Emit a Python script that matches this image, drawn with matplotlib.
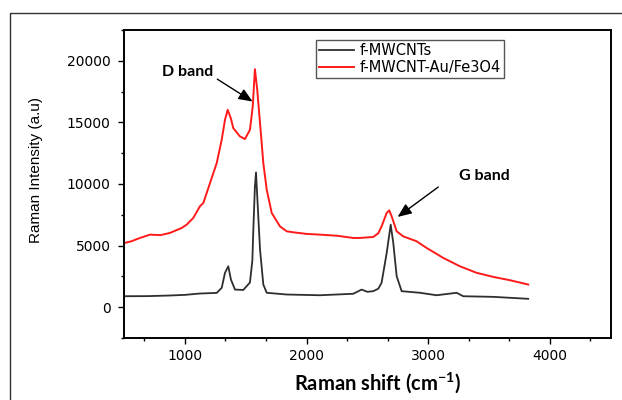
import matplotlib
matplotlib.use("Agg")
import matplotlib.pyplot as plt
from matplotlib.lines import Line2D
from matplotlib.ticker import MultipleLocator, FixedLocator

plt.rcParams['mathtext.fontset'] = 'custom'
plt.rcParams['mathtext.rm'] = 'Lato'
plt.rcParams['mathtext.bf'] = 'Lato:bold'

# ---- data ----
red_x = [500, 560, 631, 714, 800, 878, 974, 1015, 1069, 1124, 1152, 1207, 1262, 1303, 1330, 1352,
         1379, 1398, 1453, 1494, 1535, 1558, 1576, 1595, 1618, 1645, 1673, 1714, 1782, 1837, 1891,
         2000, 2111, 2250, 2384, 2439, 2521, 2548, 2590, 2617, 2659, 2680, 2700, 2741, 2795, 2905,
         2987, 3124, 3261, 3398, 3535, 3672, 3822]
red_y = [5200, 5350, 5620, 5890, 5850, 6030, 6430, 6700, 7240, 8190, 8460, 10080, 11700, 13590, 15210, 16020,
         15300, 14540, 13860, 13650, 14400, 16290, 19320, 17640, 14940, 11700, 9540, 7650, 6560, 6160, 6080,
         5950, 5890, 5800, 5620, 5620, 5680, 5700, 6000, 6560, 7650, 7860, 7370, 6160, 5750, 5350,
         4810, 4000, 3320, 2790, 2460, 2190, 1840]

black_x = [500, 700, 878, 1000, 1124, 1262, 1303, 1330, 1357, 1379, 1412, 1480, 1535, 1555, 1562, 1576,
           1585, 1595, 1618, 1645, 1673, 1837, 2111, 2384, 2453, 2500, 2548, 2590, 2617, 2659, 2692,
           2713, 2741, 2782, 2932, 3069, 3234, 3288, 3535, 3822]
black_y = [890, 900, 950, 1000, 1110, 1160, 1570, 2790, 3320, 2240, 1430, 1400, 2000, 3800, 6030, 9800,
           10940, 9000, 4680, 1840, 1170, 1030, 970, 1090, 1430, 1250, 1300, 1500, 1980, 4410, 6700,
           5220, 2510, 1300, 1170, 970, 1170, 890, 840, 680]

series_labels = ['f-MWCNTs', 'f-MWCNT-Au/Fe3O4']
x_ticks = [1000, 2000, 3000, 4000]
y_ticks = [0, 5000, 10000, 15000, 20000]

# ---- figure ----
fig = plt.figure(figsize=(6.22, 4.0), dpi=100)
ax = fig.add_axes([124/622, 1-338/400, (610.7-124)/622, (338-30)/400])

ax.plot(black_x, black_y, color='#2e2e2e', lw=1.3, label=series_labels[0])
ax.plot(red_x, red_y, color='#ff1a1a', lw=1.4, label=series_labels[1])

ax.set_xlim(500, 4500)
ax.set_ylim(-2500, 22500)
ax.set_xticks(x_ticks)
ax.set_yticks(y_ticks)
ax.xaxis.set_minor_locator(FixedLocator([667, 1333, 1667, 2333, 2667, 3333, 3667, 4333]))
ax.yaxis.set_minor_locator(MultipleLocator(2500))

for s in ax.spines.values():
    s.set_linewidth(1.4)
    s.set_color('black')
ax.tick_params(which='major', direction='out', length=4.2, width=1.0, labelsize=10, pad=4)
ax.tick_params(which='minor', direction='out', length=2.4, width=1.0)
ax.tick_params(axis='y', which='major', pad=5.5)
for lab in ax.get_xticklabels() + ax.get_yticklabels():
    lab.set_family('DejaVu Sans')

leg = ax.legend(loc='upper left', bbox_to_anchor=(0.394, 0.9675), borderaxespad=0,
                fancybox=False, edgecolor='#555555', framealpha=1,
                handlelength=2.45, handletextpad=0.35, borderpad=0.2, labelspacing=0.12,
                prop={'family': 'DejaVu Sans', 'size': 10.5})
leg.get_frame().set_linewidth(1.0)

# annotations
ax.text(1026, 19110, 'D band', family='Lato', weight='bold', fontsize=11.5,
        ha='center', va='center')
ax.annotate('', xy=(1557, 16694), xytext=(1267, 18510),
            arrowprops=dict(arrowstyle='-|>,head_length=0.6,head_width=0.25', mutation_scale=14,
                            lw=1.0, color='black', shrinkA=0, shrinkB=0))
ax.text(3458, 10673, 'G band', family='Lato', weight='bold', fontsize=11.5,
        ha='center', va='center')
ax.annotate('', xy=(2749, 7326), xytext=(3083, 9757),
            arrowprops=dict(arrowstyle='-|>,head_length=0.6,head_width=0.25', mutation_scale=14,
                            lw=1.0, color='black', shrinkA=0, shrinkB=0))

# axis labels
fig.text(36/622, 1-170/400, 'Raman Intensity (a.u)', rotation=90, family='Liberation Sans',
         fontsize=11, ha='center', va='center')
fig.text(378/622, 1-383/400, r'Raman shift (cm$^{\mathbf{-1}}$)', family='Lato', weight='bold',
         fontsize=14.5, ha='center', va='center')

# outer frame (top and left edges visible)
fig.add_artist(Line2D([10/622, 10/622, 1.0], [0.0, 1-13/400, 1-13/400],
                      transform=fig.transFigure, color='#333333', lw=1.0))

fig.savefig('out.png', dpi=100)
